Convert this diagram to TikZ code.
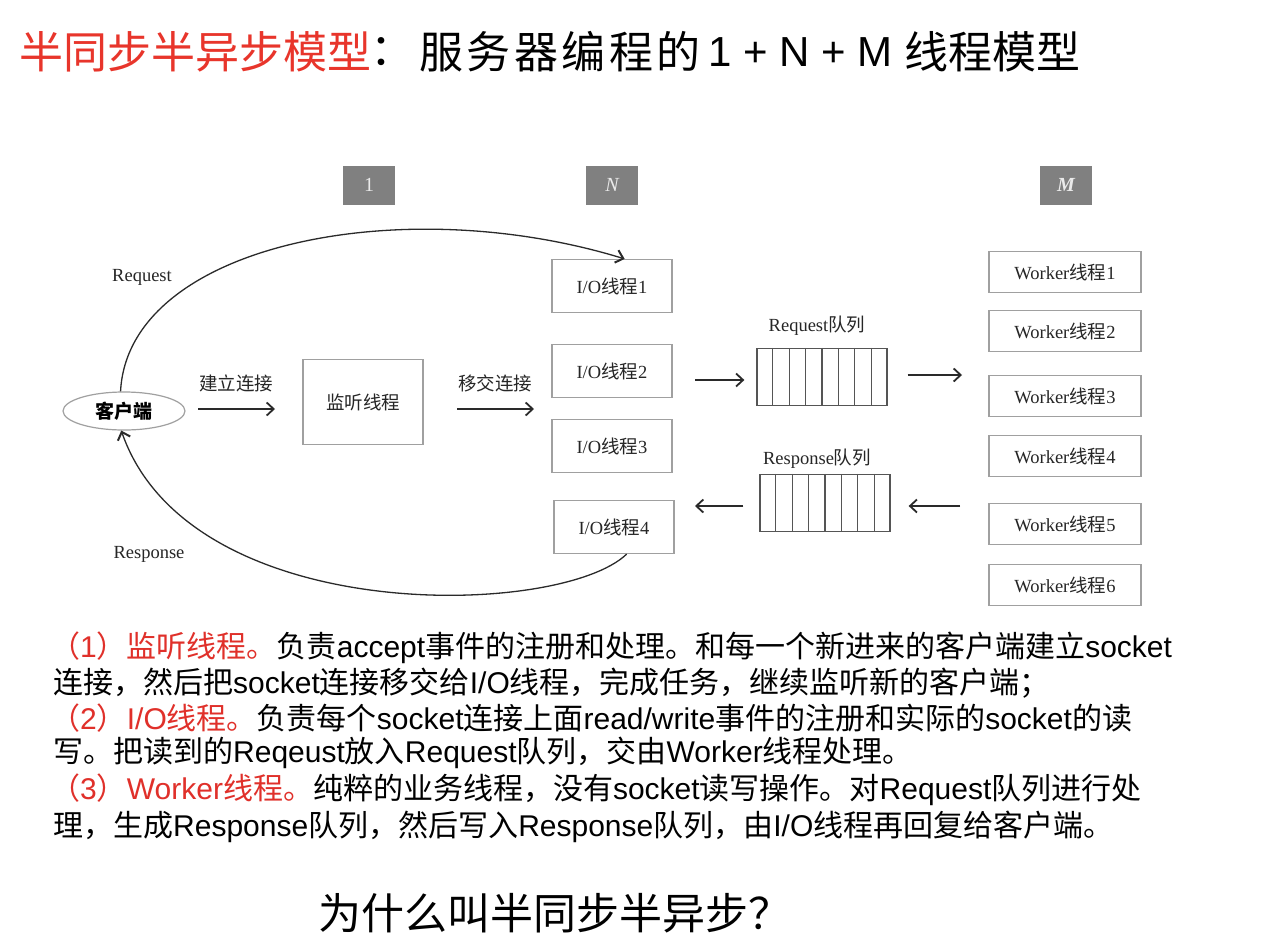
\documentclass[tikz,border=0pt]{standalone}
\usepackage{fontspec}
\setmainfont{Liberation Serif}
\newfontfamily\cjk{Noto Sans CJK SC}
\newfontfamily\ari{Liberation Sans}
\newcommand\la[1]{{\ari #1}}
\usetikzlibrary{arrows.meta,shapes.geometric,calc}
\definecolor{boxgray}{HTML}{A0A0A0}
\definecolor{txt}{HTML}{262626}
\definecolor{hdr}{HTML}{808080}
\definecolor{hdrtxt}{HTML}{EAEAEA}
\definecolor{titlered}{HTML}{E8352B}
\definecolor{parared}{HTML}{E0302A}
\definecolor{linec}{HTML}{2A2A2A}
\begin{document}
\begin{tikzpicture}[x=1pt,y=-1pt,
  dfont/.style={font=\fontsize{18.5}{22}\selectfont},
  cfont/.style={font=\cjk\fontsize{18.5}{22}\selectfont},
  box/.style={draw=boxgray, line width=1.2pt, inner sep=0pt, text=txt, dfont},
  iobox/.style={box, minimum width=120pt, minimum height=53pt},
  wbox/.style={box, minimum width=152pt, minimum height=41pt},
  hdrbox/.style={fill=hdr, minimum width=52pt, minimum height=39pt, inner sep=0pt,
    text=hdrtxt, font=\fontsize{20}{24}\selectfont},
  queue/.style={draw=linec!80, line width=1.3pt, minimum width=130pt, minimum height=57pt, inner sep=0pt},
  lbl/.style={text=txt, dfont, inner sep=0pt},
  arr/.style={draw=linec, line width=1.8pt, -{Straight Barb[length=7pt,width=13pt,line width=1.8pt]}},
  curve/.style={draw=linec, line width=1.3pt, -{Straight Barb[length=7pt,width=13pt,line width=2pt]}},
  para/.style={anchor=west, inner sep=0pt, font=\cjk\fontsize{30}{34}\selectfont},
  ttl/.style={anchor=west, inner sep=0pt, font=\cjk\fontsize{44}{48}\selectfont},
]
\useasboundingbox (0,0) rectangle (1271,948);
\fill[white] (0,0) rectangle (1271,948);

% title
\node[ttl, text=titlered] (t1) at (19,52) {半同步半异步模型};
\node[ttl] (t2) at (370,52) {：};
\node[ttl] (t3) at (419,52) {\addfontfeature{LetterSpace=8}服务器编程的};
\node[ttl, font=\ari\fontsize{42}{48}\selectfont] (t4) at (708,52) {1 + N + M};
\node[ttl] (t5) at (904,52) {线程模型};

% header boxes
\node[hdrbox] (h1) at (369,185) {1};
\node[hdrbox] (hN) at (612,185) {\itshape N};
\node[hdrbox] (hM) at (1066,185) {\itshape\bfseries M};

% client and listener
\node[draw=boxgray, line width=1.2pt, ellipse, minimum width=122pt, minimum height=38pt, inner sep=0pt,
  text=black, font=\cjk\bfseries\fontsize{19}{22}\selectfont] (client) at (124,411) {客户端};
\node[box, minimum width=120pt, minimum height=85pt, cfont] (listen) at (363,402) {监听线程};

% IO boxes
\node[iobox] (io1) at (612,286) {I/O{\cjk 线程}1};
\node[iobox] (io2) at (612,371) {I/O{\cjk 线程}2};
\node[iobox] (io3) at (612,446) {I/O{\cjk 线程}3};
\node[iobox] (io4) at (614,527) {I/O{\cjk 线程}4};

% worker boxes
\node[wbox] (w1) at (1065,272) {Worker{\cjk 线程}1};
\node[wbox] (w2) at (1065,331) {Worker{\cjk 线程}2};
\node[wbox] (w3) at (1065,396) {Worker{\cjk 线程}3};
\node[wbox] (w4) at (1065,456) {Worker{\cjk 线程}4};
\node[wbox] (w5) at (1065,524) {Worker{\cjk 线程}5};
\node[wbox] (w6) at (1065,585) {Worker{\cjk 线程}6};

% queues
\node[queue] (reqq) at (822,377) {};
\node[queue] (resq) at (825,503) {};
\foreach \q in {reqq,resq}{
  \foreach \i in {1,...,7}{
    \draw[linec!80, line width=1.3pt] ($(\q.north west)!\i/8!(\q.north east)$) -- ($(\q.south west)!\i/8!(\q.south east)$);
  }
}
\node[lbl] (reql) at (817,326) {Request{\cjk 队列}};
\node[lbl] (resl) at (817,459) {Response{\cjk 队列}};

% labels
\node[lbl] (reqlab) at (142,277) {Request};
\node[lbl] (reslab) at (149,554) {Response};

% straight arrows
\coordinate (a1s) at (198,409); \coordinate (a1e) at (275,409);
\draw[arr] (a1s) -- (a1e);
\node[lbl, cfont] (a1l) at (236,383) {建立连接};
\coordinate (a2s) at (457,409); \coordinate (a2e) at (534,409);
\draw[arr] (a2s) -- (a2e);
\node[lbl, cfont] (a2l) at (495,383) {移交连接};

\coordinate (a3s) at (695,380); \coordinate (a4e) at (962,375);
\draw[arr, shorten >=12pt] (a3s) -- (reqq.west |- a3s);
\draw[arr] ($(reqq.east)+(20,-2)$) -- (a4e);
\coordinate (a5s) at (960,506); \coordinate (a6e) at (695,506);
\draw[arr] (a5s) -- ($(resq.east |- a5s)+(18,0)$);
\draw[arr] ($(resq.west |- a6e)+(-16,0)$) -- (a6e);

% request / response curves
\draw[curve] (client.100) .. controls (128,245) and (400,190) .. (io1.65);
\draw[curve] (io4.-65) .. controls (560,618) and (190,628) .. (client.-98);

% paragraph
\node[para] (p1) at (50,648) {{\color{parared}（\la{1}）监听线程。}负责\la{accept}事件的注册和处理。和每一个新进来的客户端建立\la{socket}};
\node[para] (p2) at (53,683) {连接，然后把\la{socket}连接移交给\la{I/O}线程，完成任务，继续监听新的客户端；};
\node[para] (p3) at (50,718) {{\color{parared}（\la{2}）\la{I/O}线程。}负责每个\la{socket}连接上面\la{read/write}事件的注册和实际的\la{socket}的读};
\node[para] (p4) at (53,753) {写。把读到的\la{Reqeust}放入\la{Request}队列，交由\la{Worker}线程处理。};
\node[para] (p5) at (50,790) {{\color{parared}（\la{3}）\la{Worker}线程。}纯粹的业务线程，没有\la{socket}读写操作。对\la{Request}队列进行处};
\node[para] (p6) at (53,827) {理，生成\la{Response}队列，然后写入\la{Response}队列，由\la{I/O}线程再回复给客户端。};

% question
\node[anchor=west, inner sep=0pt, font=\cjk\fontsize{43}{46}\selectfont] (q) at (318,913) {为什么叫半同步半异步？};
\end{tikzpicture}
\end{document}
